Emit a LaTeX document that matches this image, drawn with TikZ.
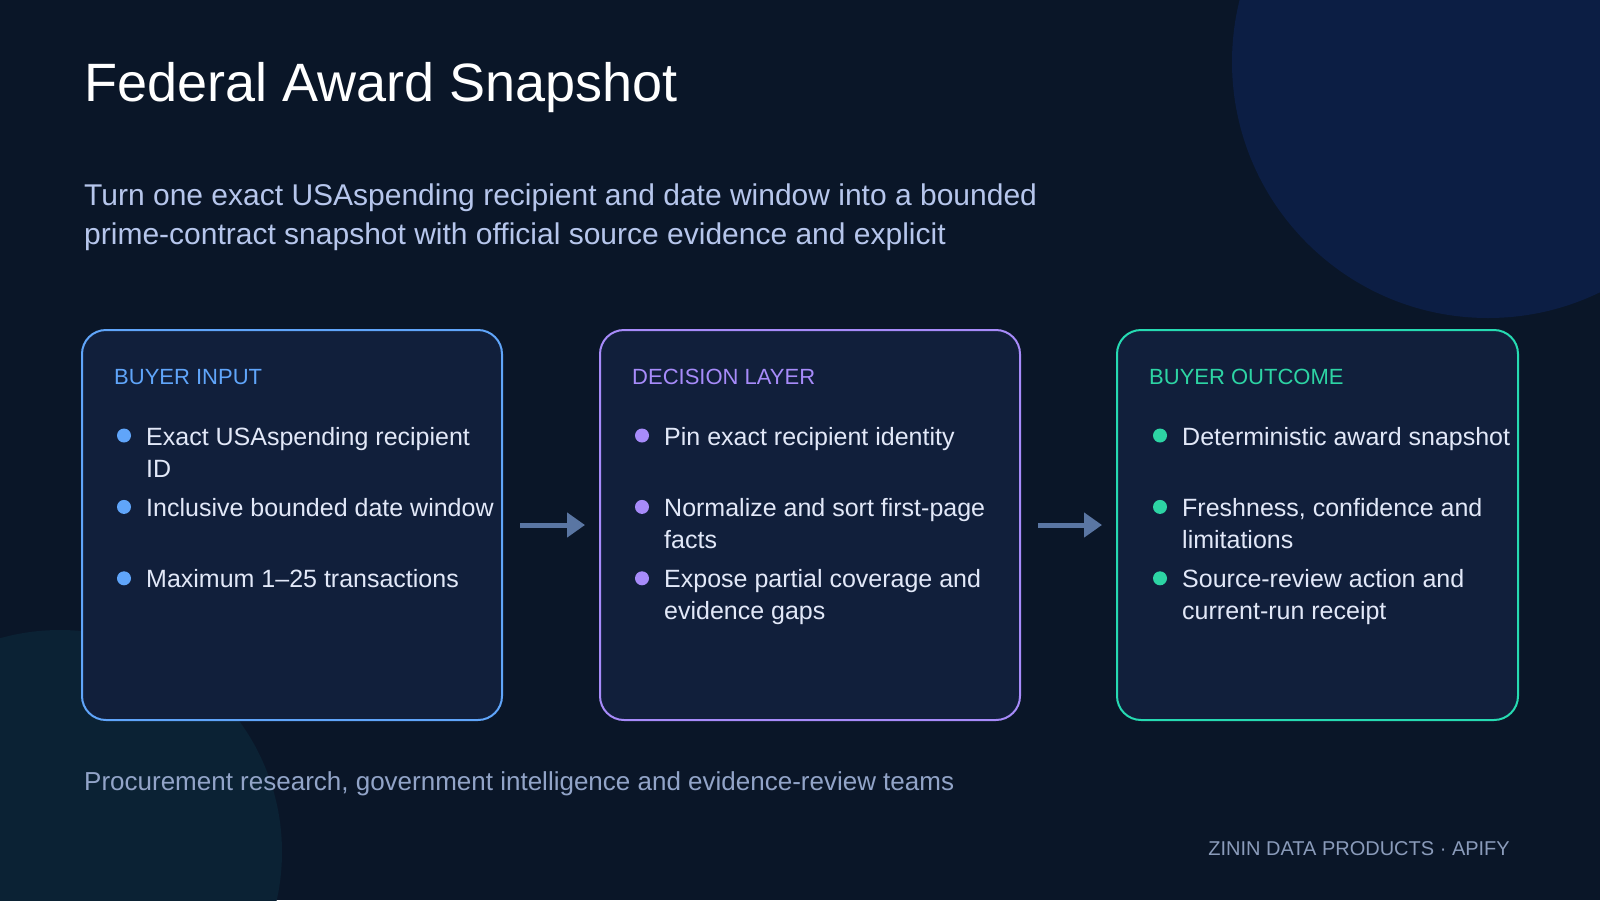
\documentclass[tikz,border=0pt]{standalone}
\usepackage{fontspec}
\setmainfont{Liberation Sans}
\usetikzlibrary{arrows.meta,positioning,calc}

\definecolor{pagebg}{HTML}{0A1628}
\definecolor{blobblue}{HTML}{0C1E44}
\definecolor{blobteal}{HTML}{0B2234}
\definecolor{cardbg}{HTML}{111F3B}
\definecolor{inblue}{HTML}{60A5FA}
\definecolor{decviolet}{HTML}{A78BFA}
\definecolor{outteal}{HTML}{2DD4A4}
\definecolor{subtext}{HTML}{B6C6EC}
\definecolor{itemtext}{HTML}{E2E8F8}
\definecolor{foottext}{HTML}{92A4C8}
\definecolor{brandtext}{HTML}{8A9BBA}
\definecolor{arrowgray}{HTML}{5A76A3}

\newcommand{\fsz}[2]{\fontsize{#1}{#2}\selectfont}
\newcommand{\stack}[1]{\begin{tabular}[t]{@{}l@{}}#1\end{tabular}}

\begin{document}
\begin{tikzpicture}[x=1pt,y=-1pt,
  card/.style={draw,rounded corners=24pt,line width=2pt,fill=cardbg,
    minimum height=390pt,anchor=north west,inner sep=0pt,outer sep=0pt},
  cardhead/.style={anchor=base west,inner sep=0pt,font=\fsz{22}{26}},
  item/.style={anchor=base west,inner sep=0pt,text=itemtext,font=\fsz{25}{32}},
  dot/.style={circle,inner sep=0pt,minimum size=14pt},
  flow/.style={draw=arrowgray,line width=5pt,shorten <=18pt,shorten >=15pt,
    -{Triangle[length=18pt,width=24pt]}}]
\useasboundingbox (0,0) rectangle (1600,900);
\begin{scope}
  \clip (0,0) rectangle (1600,900);
  \fill[pagebg] (0,0) rectangle (1600,900);
  \fill[blobblue] (1488,62) circle (256pt);
  \fill[blobteal] (60,852) circle (222pt);
\end{scope}

% heading
\node[anchor=base west,inner sep=0pt,text=white,font=\fsz{54}{60}] (title) at (84,101) {Federal Award Snapshot};
\node[anchor=base west,inner sep=0pt,text=subtext,font=\fsz{30}{39}] (lead) at (84,205)
  {\stack{Turn one exact USAspending recipient and date window into a bounded\\
  prime-contract snapshot with official source evidence and explicit}};

% three cards
\node[card,draw=inblue,minimum width=420pt] (input) at (82,330) {};
\node[card,draw=decviolet,minimum width=420pt,right=98pt of input] (decision) {};
\node[card,draw=outteal!85!cyan,minimum width=401pt,right=97pt of decision] (outcome) {};

\node[cardhead,text=inblue] (inhead) at ($(input.north west)+(32,54)$) {BUYER INPUT};
\node[cardhead,text=decviolet] (dechead) at ($(decision.north west)+(32,54)$) {DECISION LAYER};
\node[cardhead,text=outteal] (outhead) at ($(outcome.north west)+(32,54)$) {BUYER OUTCOME};

\foreach \txt [count=\i] in {{Exact USAspending recipient\\ID},
    {Inclusive bounded date window},{Maximum 1--25 transactions}} {
  \node[dot,fill=inblue] (indot\i) at ($(input.north west)+(42,105.5+71.4*\i-71.4)$) {};
  \node[item] (initem\i) at ($(input.north west)+(64,115+71.4*\i-71.4)$) {\stack{\txt}};
}
\foreach \txt [count=\i] in {{Pin exact recipient identity},
    {Normalize and sort first-page\\facts},{Expose partial coverage and\\evidence gaps}} {
  \node[dot,fill=decviolet] (decdot\i) at ($(decision.north west)+(42,105.5+71.4*\i-71.4)$) {};
  \node[item] (decitem\i) at ($(decision.north west)+(64,115+71.4*\i-71.4)$) {\stack{\txt}};
}
\foreach \txt [count=\i] in {{Deterministic award snapshot},
    {Freshness, confidence and\\limitations},{Source-review action and\\current-run receipt}} {
  \node[dot,fill=outteal] (outdot\i) at ($(outcome.north west)+(43,105.5+71.4*\i-71.4)$) {};
  \node[item] (outitem\i) at ($(outcome.north west)+(65,115+71.4*\i-71.4)$) {\stack{\txt}};
}

\draw[flow] (input) -- (decision);
\draw[flow] (decision) -- (outcome);

% footer
\node[anchor=base west,inner sep=0pt,text=foottext,font=\fsz{26}{30}] (audience) at (84,790)
  {Procurement research, government intelligence and evidence-review teams};
\node[anchor=base east,inner sep=0pt,text=brandtext,font=\fsz{20}{24}] (brand) at (1510,855)
  {ZININ DATA PRODUCTS · APIFY};
\end{tikzpicture}
\end{document}
